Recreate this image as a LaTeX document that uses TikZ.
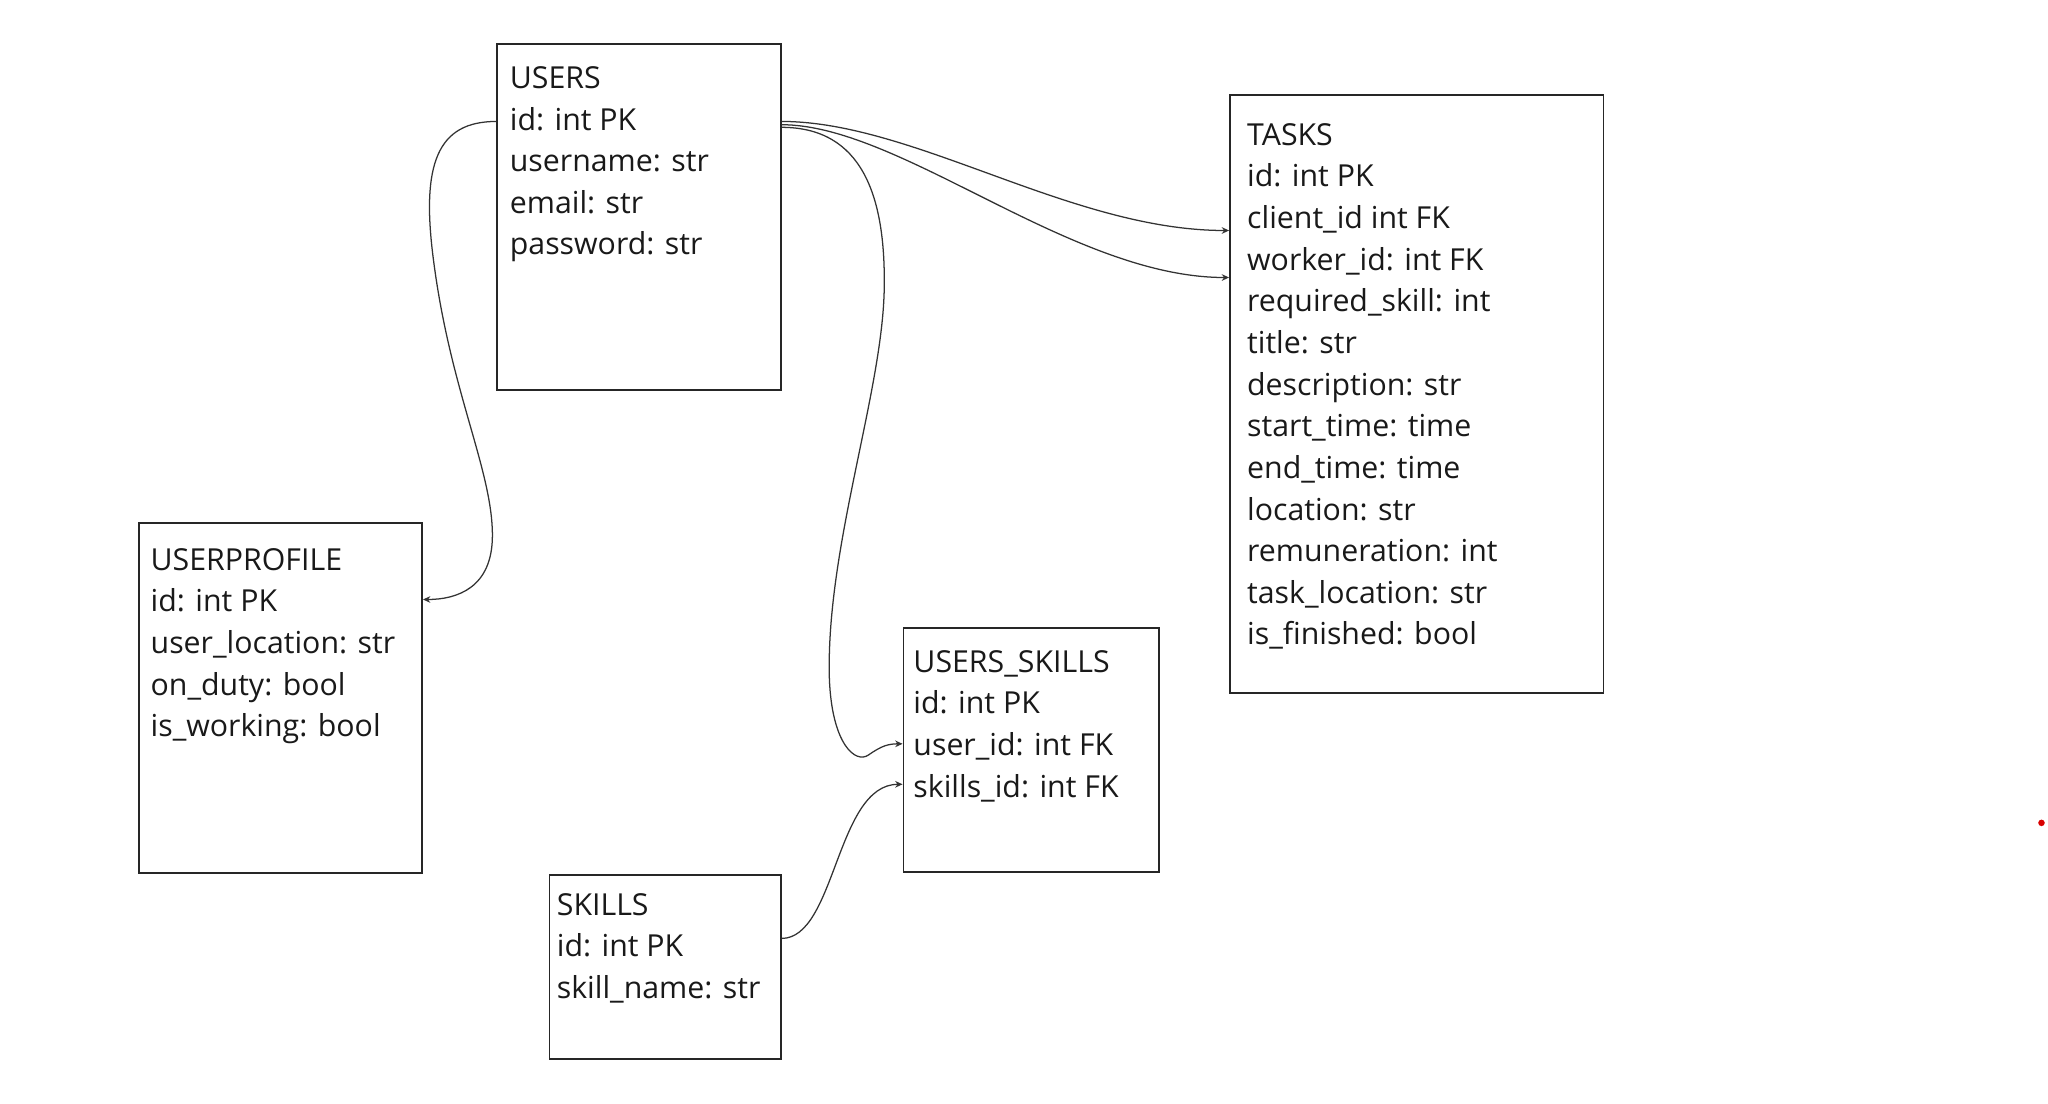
\documentclass[tikz,border=0pt]{standalone}
\usepackage{fontspec}
\setmainfont{Open Sans}
\usetikzlibrary{arrows.meta}
\newcommand{\fieldfont}{\fontsize{13.2}{18.15}\selectfont}

\begin{document}
\begin{tikzpicture}[x=0.02cm, y=-0.02cm,
	table/.style={rectangle, draw=black!85, line width=0.8pt, anchor=north west, inner sep=0pt},
	fields/.style={anchor=north west, inner sep=0pt, align=left, text=black!90, font=\fieldfont},
	link/.style={draw=black!80, line width=0.55pt, -{Stealth[length=3.2pt, width=2.9pt]}}]
	\useasboundingbox (0,0) rectangle (1568,845.25);
	\node (users)		at (380,   33)	[table, minimum width=4.34cm, minimum height=5.30cm]	{};
	\node (tasks)		at (941,   72)	[table, minimum width=5.72cm, minimum height=9.16cm]	{};
	\node (profile)		at (105.5, 400)	[table, minimum width=4.34cm, minimum height=5.35cm]	{};
	\node (userskills)	at (691,  480)	[table, minimum width=3.92cm, minimum height=3.74cm]	{};
	\node (skills)		at (420,  669)	[table, minimum width=3.54cm, minimum height=2.82cm]	{};
	\node (usersT)		at (390,   50.5)	[fields]	{USERS\\id: int PK\\username: str\\email: str\\password: str};
	\node (tasksT)		at (954.5, 94)	[fields]	{TASKS\\id: int PK\\client\_id int FK\\worker\_id: int FK\\required\_skill: int\\title: str\\description: str\\start\_time: time\\end\_time: time\\location: str\\remuneration: int\\task\_location: str\\is\_finished: bool};
	\node (profileT)	at (115,  419.5)	[fields]	{USERPROFILE\\id: int PK\\user\_location: str\\on\_duty: bool\\is\_working: bool};
	\node (userskillsT)	at (699,  497.5)	[fields]	{USERS\_SKILLS\\id: int PK\\user\_id: int FK\\skills\_id: int FK};
	\node (skillsT)		at (426,  683.5)	[fields]	{SKILLS\\id: int PK\\skill\_name: str};
	\draw[link] ([yshift=-1.2cm]users.north west) .. controls (335,93) and (322,125) .. (332,200)
		.. controls (345,300) and (377,360) .. (377,410) .. controls (377,450) and (350,459) .. ([yshift=-1.18cm]profile.north east);
	\draw[link] ([yshift=-1.2cm]users.north east) .. controls (700,93) and (820,176.5) .. ([yshift=-2.09cm]tasks.north west);
	\draw[link] ([yshift=-1.25cm]users.north east) .. controls (690,95.5) and (820,212.5) .. ([yshift=-2.81cm]tasks.north west);
	\draw[link] ([yshift=-1.29cm]users.north east) .. controls (660,97.5) and (678,150) .. (677,220)
		.. controls (676,300) and (632,420) .. (635,520) .. controls (637,570) and (655,585) .. (665,578)
		.. controls (675,571) and (680,569.5) .. ([yshift=-1.79cm]userskills.north west);
	\draw[link] ([yshift=-0.99cm]skills.north east) .. controls (640,718.5) and (640,600.5) .. ([yshift=-2.41cm]userskills.north west);
	\fill[red!85!black] (1563,630) circle (2.5);
\end{tikzpicture}
\end{document}
